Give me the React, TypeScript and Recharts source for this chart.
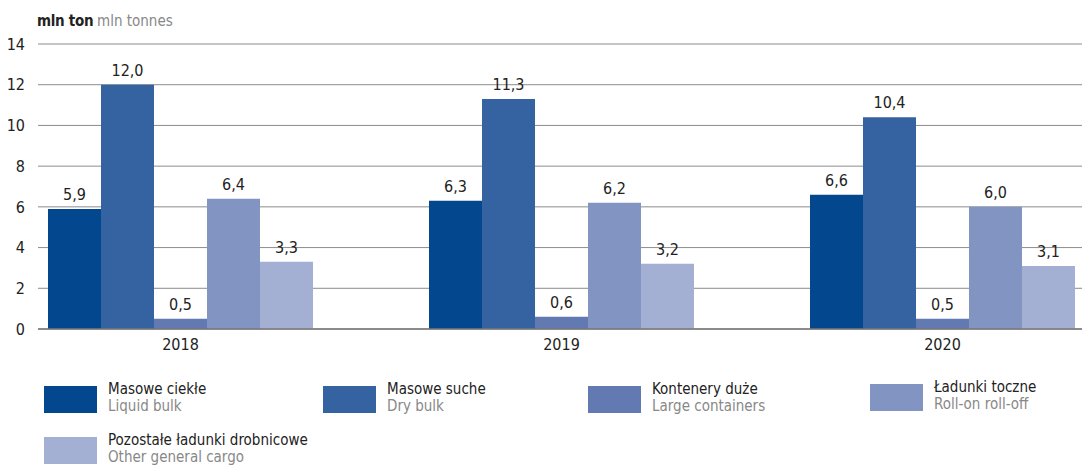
import React from "react";
import { BarChart, Bar, XAxis, YAxis, CartesianGrid, LabelList } from "recharts";

const years = ["2018", "2019", "2020"];
const liquidBulk = [5.9, 6.3, 6.6];
const dryBulk = [12.0, 11.3, 10.4];
const largeContainers = [0.5, 0.6, 0.5];
const rollOn = [6.4, 6.2, 6.0];
const otherCargo = [3.3, 3.2, 3.1];
const yTicks = [0, 2, 4, 6, 8, 10, 12, 14];

const seriesKeys = ["liquid", "dry", "containers", "roro", "other"];
const seriesColors = ["#03488f", "#3562a1", "#6379b2", "#8295c2", "#a3b0d4"];
const seriesNamesPl = ["Masowe ciekłe", "Masowe suche", "Kontenery duże", "Ładunki toczne", "Pozostałe ładunki drobnicowe"];
const seriesNamesEn = ["Liquid  bulk", "Dry bulk", "Large containers", "Roll-on roll-off", "Other general cargo"];
const legendPos = [
  { x: 36, y: 378 },
  { x: 315, y: 378 },
  { x: 580, y: 378 },
  { x: 862, y: 376 },
  { x: 36, y: 429 },
];

const data = years.map((y, i) => ({
  year: y,
  liquid: liquidBulk[i],
  dry: dryBulk[i],
  containers: largeContainers[i],
  roro: rollOn[i],
  other: otherCargo[i],
}));

const FONT = '"DejaVu Sans Condensed", "Liberation Sans Narrow", sans-serif';
const fmt = (v: any) => Number(v).toFixed(1).replace(".", ",");

export default function App() {
  return (
    <div style={{ position: "relative", width: 1082, height: 464, fontFamily: FONT }}>
      <div style={{ position: "absolute", left: 29, top: 4, fontSize: 15, color: "#222", fontWeight: 700, letterSpacing: -0.3 }}>mln ton</div>
      <div style={{ position: "absolute", left: 89, top: 4, fontSize: 15, color: "#888" }}>mln tonnes</div>
      <BarChart
        width={1082}
        height={360}
        data={data}
        margin={{ top: 36, right: 0, bottom: 9, left: 0 }}
        barCategoryGap={58}
        barGap={0}
        style={{ fontFamily: FONT }}
      >
        <CartesianGrid vertical={false} stroke="#8c8c8c" strokeWidth={1} />
        <XAxis
          dataKey="year"
          height={30}
          padding={{ left: -48, right: -43 }}
          axisLine={{ stroke: "#777", strokeWidth: 1.5 }}
          tickLine={false}
          tickSize={0}
          tickMargin={10}
          tick={{ fill: "#222", fontSize: 16, fontFamily: FONT }}
        />
        <YAxis
          width={30}
          domain={[0, 14]}
          ticks={yTicks}
          axisLine={false}
          tickLine={false}
          tickSize={0}
          tickMargin={13}
          tick={{ fill: "#222", fontSize: 16, fontFamily: FONT }}
        />
        {seriesKeys.map((k, i) => (
          <Bar key={k} dataKey={k} fill={seriesColors[i]} isAnimationActive={false}>
            <LabelList
              dataKey={k}
              position="top"
              offset={9}
              formatter={fmt}
              style={{ fill: "#222", fontSize: 16, fontFamily: FONT }}
            />
          </Bar>
        ))}
      </BarChart>
      {seriesKeys.map((k, i) => (
        <div key={k} style={{ position: "absolute", left: legendPos[i].x, top: legendPos[i].y, display: "flex" }}>
          <div style={{ width: 53, height: 27, background: seriesColors[i] }} />
          <div style={{ marginLeft: 11, marginTop: -5, fontSize: 15, lineHeight: "17px" }}>
            <div style={{ color: "#222" }}>{seriesNamesPl[i]}</div>
            <div style={{ color: "#888" }}>{seriesNamesEn[i]}</div>
          </div>
        </div>
      ))}
    </div>
  );
}
